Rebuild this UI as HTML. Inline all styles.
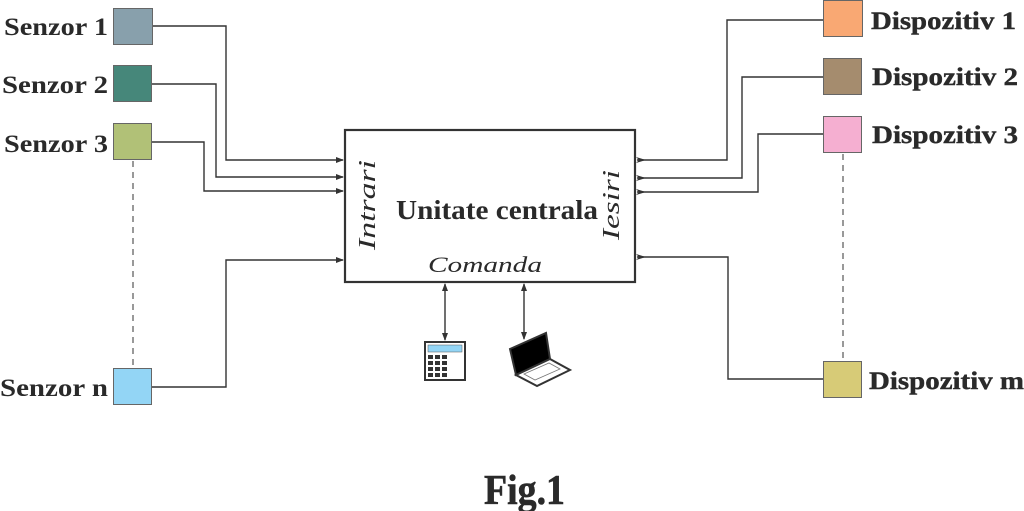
<!DOCTYPE html>
<html><head><meta charset="utf-8"><style>
html,body{margin:0;padding:0;background:#fff;}
svg{display:block;}
text{font-family:"Liberation Serif",serif;fill:#2a2a2a;}
.b{font-weight:bold;font-size:25px;}
</style></head><body>
<svg width="1024" height="511" viewBox="0 0 1024 511" xmlns="http://www.w3.org/2000/svg">
<defs>
<marker id="a" markerWidth="8" markerHeight="8" refX="7" refY="4" orient="auto-start-reverse" markerUnits="userSpaceOnUse"><path d="M0,1 L8,4 L0,7 Z" fill="#333"/></marker>
<marker id="r" markerWidth="10" markerHeight="8" refX="9" refY="4" orient="auto" markerUnits="userSpaceOnUse"><path d="M10,1 L0,4 L10,7 L7,4 Z" fill="#333"/></marker>
</defs>
<g fill="none" stroke="#333" stroke-width="1.4">
<polyline points="153,26 226,26 226,160 343,160" marker-end="url(#a)"/>
<polyline points="152,84 216,84 216,177 343,177" marker-end="url(#a)"/>
<polyline points="152,142 204,142 204,191 343,191" marker-end="url(#a)"/>
<polyline points="152,387 226,387 226,260 343,260" marker-end="url(#a)"/>
<polyline points="823,20 727,20 727,160 637,160" marker-end="url(#r)"/>
<polyline points="823,77 742,77 742,178 637,178" marker-end="url(#r)"/>
<polyline points="823,134 758,134 758,192 637,192" marker-end="url(#r)"/>
<polyline points="823,379 728,379 728,257 637,257" marker-end="url(#r)"/>
<line x1="445" y1="284" x2="445" y2="340" marker-start="url(#a)" marker-end="url(#a)"/>
<line x1="524" y1="284" x2="524" y2="339" marker-start="url(#a)" marker-end="url(#a)"/>
</g>
<g stroke="#333" stroke-width="1" stroke-dasharray="6,5">
<line x1="133" y1="161" x2="133" y2="368"/>
<line x1="843" y1="154" x2="843" y2="361"/>
</g>
<rect x="345" y="130" width="290" height="152" fill="#fff" stroke="#333" stroke-width="2.2"/>
<g stroke="#666" stroke-width="1">
<rect x="113.5" y="8.5" width="39" height="36" fill="#88a0ac"/>
<rect x="113.5" y="65.5" width="38" height="36" fill="#46877a"/>
<rect x="113.5" y="123.5" width="38" height="36" fill="#b1c177"/>
<rect x="113.5" y="368.5" width="38" height="36" fill="#93d5f5"/>
<rect x="823.5" y="0.5" width="39" height="36" fill="#f9a873"/>
<rect x="823.5" y="58.5" width="38" height="36" fill="#a58c6e"/>
<rect x="823.5" y="116.5" width="38" height="36" fill="#f5afd1"/>
<rect x="823.5" y="361.5" width="38" height="36" fill="#d7cb77"/>
</g>
<text class="b" x="4" y="35" textLength="104" lengthAdjust="spacingAndGlyphs">Senzor 1</text>
<text class="b" x="2" y="93" textLength="106" lengthAdjust="spacingAndGlyphs">Senzor 2</text>
<text class="b" x="4" y="152" textLength="104" lengthAdjust="spacingAndGlyphs">Senzor 3</text>
<text class="b" x="0" y="396" textLength="108" lengthAdjust="spacingAndGlyphs">Senzor n</text>
<text class="b" x="871" y="29" textLength="145" lengthAdjust="spacingAndGlyphs" stroke="#2a2a2a" stroke-width="0.4">Dispozitiv 1</text>
<text class="b" x="872" y="85" textLength="146" lengthAdjust="spacingAndGlyphs" stroke="#2a2a2a" stroke-width="0.4">Dispozitiv 2</text>
<text class="b" x="872" y="143" textLength="146" lengthAdjust="spacingAndGlyphs" stroke="#2a2a2a" stroke-width="0.4">Dispozitiv 3</text>
<text class="b" x="869" y="389" textLength="155" lengthAdjust="spacingAndGlyphs" stroke="#2a2a2a" stroke-width="0.4">Dispozitiv m</text>
<text x="396" y="219" font-size="27" font-weight="bold" textLength="202" lengthAdjust="spacingAndGlyphs">Unitate centrala</text>
<text x="0" y="0" font-size="24" font-style="italic" text-anchor="middle" textLength="90" lengthAdjust="spacingAndGlyphs" transform="translate(375,205) rotate(-90)">Intrari</text>
<text x="0" y="0" font-size="24" font-style="italic" text-anchor="middle" textLength="70" lengthAdjust="spacingAndGlyphs" transform="translate(619,205) rotate(-90)">Iesiri</text>
<text x="428" y="272" font-size="22" font-style="italic" textLength="114" lengthAdjust="spacingAndGlyphs">Comanda</text>
<text x="484" y="504" font-size="42" font-weight="bold" textLength="81" lengthAdjust="spacingAndGlyphs" stroke="#2a2a2a" stroke-width="0.6">Fig.1</text>
<rect x="425" y="342" width="40" height="38" fill="#fff" stroke="#333" stroke-width="2"/>
<rect x="428" y="345" width="34" height="7" fill="#93d5f5" stroke="#555" stroke-width="0.5"/>
<g fill="#333">
<rect x="428" y="355" width="5" height="4"/><rect x="435" y="355" width="5" height="4"/><rect x="442" y="355" width="5" height="4"/>
<rect x="428" y="361" width="5" height="4"/><rect x="435" y="361" width="5" height="4"/><rect x="442" y="361" width="5" height="4"/>
<rect x="428" y="367" width="5" height="4"/><rect x="435" y="367" width="5" height="4"/><rect x="442" y="367" width="5" height="4"/>
<rect x="428" y="373" width="5" height="4"/><rect x="435" y="373" width="5" height="4"/><rect x="442" y="373" width="5" height="4"/>
</g>
<polygon points="510,349 546,333 550,359 516,375" fill="#000" stroke="#333" stroke-width="2"/>
<polygon points="516,375 550,359 570,370 537,386" fill="#fff" stroke="#333" stroke-width="2"/>
<polygon points="524,374 549,363 560,369 535,380" fill="none" stroke="#777" stroke-width="0.8"/>
</svg>
</body></html>
